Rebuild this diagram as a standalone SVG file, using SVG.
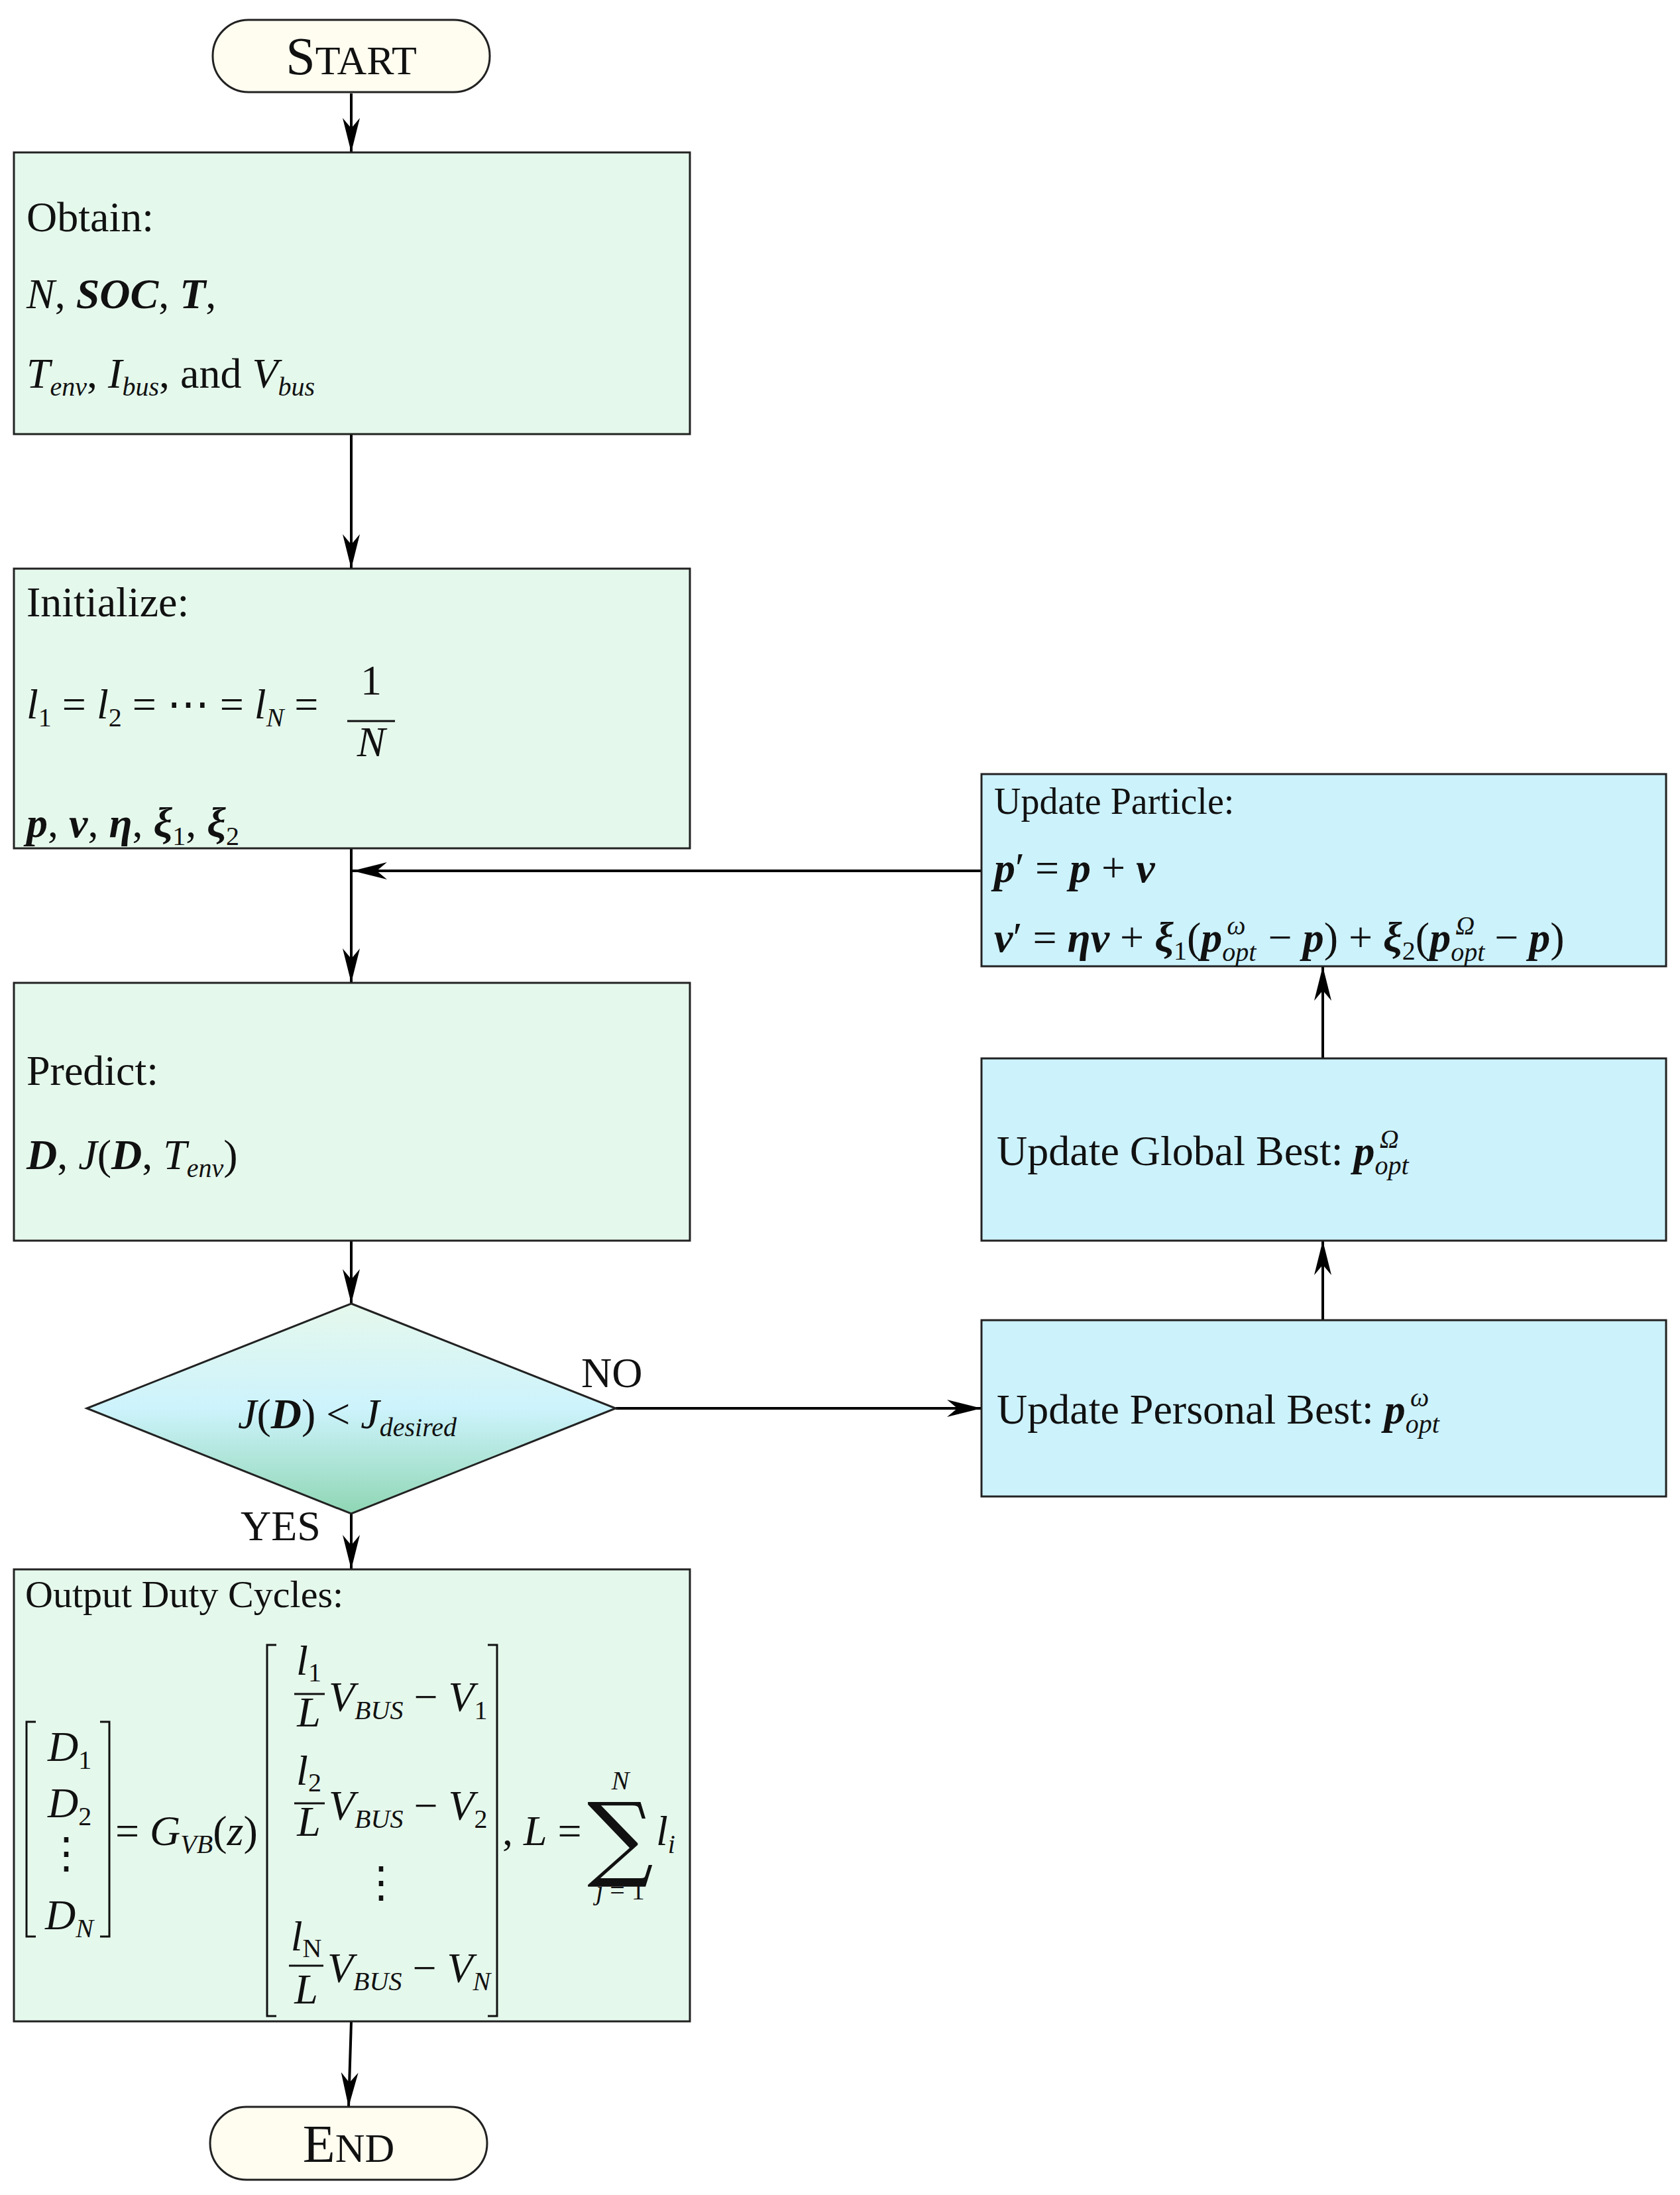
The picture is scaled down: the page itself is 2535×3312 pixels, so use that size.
<svg xmlns="http://www.w3.org/2000/svg" width="2535" height="3312" viewBox="0 0 2535 3312">
<style>
text{font-family:"Liberation Serif","DejaVu Serif",serif;font-size:64px;fill:#111}
.i{font-style:italic}
.b{font-weight:bold;font-style:italic}
.s{font-size:40px;font-style:italic}
.sn{font-size:40px}
.g{fill:#e5f8ec;stroke:#222;stroke-width:3}
.c{fill:#ccf2fc;stroke:#222;stroke-width:3}
.t{fill:#fffdf0;stroke:#222;stroke-width:3}
.e{stroke:#000;stroke-width:4;fill:none}
.m{stroke:#111;stroke-width:3;fill:none}
</style>
<defs>
<marker id="a" viewBox="0 0 20 10" refX="20" refY="5" markerWidth="56" markerHeight="26" markerUnits="userSpaceOnUse" orient="auto">
<path d="M0,0 L20,5 L0,10 L6,5 Z" fill="#000"/>
</marker>
<linearGradient id="dg" x1="0" y1="0" x2="0" y2="1">
<stop offset="0" stop-color="#e5f8ec"/><stop offset="0.5" stop-color="#cdf3fc"/><stop offset="1" stop-color="#8fd6b4"/>
</linearGradient>
</defs>
<g id="connectors">
<line class="e" x1="530" y1="141" x2="530" y2="230" marker-end="url(#a)"/>
<line class="e" x1="530" y1="655" x2="530" y2="858" marker-end="url(#a)"/>
<line class="e" x1="530" y1="1280" x2="530" y2="1483" marker-end="url(#a)"/>
<line class="e" x1="1481" y1="1314" x2="532" y2="1314" marker-end="url(#a)"/>
<line class="e" x1="530" y1="1872" x2="530" y2="1967" marker-end="url(#a)"/>
<line class="e" x1="530" y1="2284" x2="530" y2="2368" marker-end="url(#a)"/>
<line class="e" x1="530" y1="3050" x2="526" y2="3179" marker-end="url(#a)"/>
<line class="e" x1="929" y1="2125" x2="1481" y2="2125" marker-end="url(#a)"/>
<line class="e" x1="1996" y1="1992" x2="1996" y2="1872" marker-end="url(#a)"/>
<line class="e" x1="1996" y1="1597" x2="1996" y2="1458" marker-end="url(#a)"/>
<text x="877" y="2093">NO</text>
<text x="363" y="2324">YES</text>
</g>
<g id="start">
<rect class="t" x="321" y="30" width="418" height="109" rx="54"/>
<text x="530" y="112" text-anchor="middle" style="font-size:80px">S<tspan style="font-size:62px">TART</tspan></text>
</g>
<g id="obtain">
<rect class="g" x="21" y="230" width="1020" height="425"/>
<text x="40" y="349">Obtain:</text>
<text x="40" y="465"><tspan class="i">N</tspan>, <tspan class="b">SOC</tspan>, <tspan class="b">T</tspan>,</text>
<text x="40" y="585"><tspan class="i">T</tspan><tspan class="s" dy="12">env</tspan><tspan dy="-12">, </tspan><tspan class="i">I</tspan><tspan class="s" dy="12">bus</tspan><tspan dy="-12">, and </tspan><tspan class="i">V</tspan><tspan class="s" dy="12">bus</tspan></text>
</g>
<g id="initialize">
<rect class="g" x="21" y="858" width="1020" height="422"/>
<text x="40" y="930">Initialize:</text>
<text x="40" y="1084"><tspan class="i">l</tspan><tspan class="sn" dy="12">1</tspan><tspan dy="-12"> = </tspan><tspan class="i">l</tspan><tspan class="sn" dy="12">2</tspan><tspan dy="-12"> = ⋯ = </tspan><tspan class="i">l</tspan><tspan class="s" dy="12">N</tspan><tspan dy="-12"> =</tspan></text>
<text x="560" y="1048" text-anchor="middle">1</text>
<line class="m" x1="524" y1="1088" x2="596" y2="1088"/>
<text x="560" y="1141" text-anchor="middle" class="i">N</text>
<text x="40" y="1263"><tspan class="b">p</tspan>, <tspan class="b">v</tspan>, <tspan class="b">η</tspan>, <tspan class="b">ξ</tspan><tspan class="sn" dy="12">1</tspan><tspan dy="-12">, </tspan><tspan class="b">ξ</tspan><tspan class="sn" dy="12">2</tspan></text>
</g>
<g id="predict">
<rect class="g" x="21" y="1483" width="1020" height="389"/>
<text x="40" y="1637">Predict:</text>
<text x="40" y="1764"><tspan class="b">D</tspan>, <tspan class="i">J</tspan>(<tspan class="b">D</tspan>, <tspan class="i">T</tspan><tspan class="s" dy="12">env</tspan><tspan dy="-12">)</tspan></text>
</g>
<g id="decision">
<polygon points="530,1967 929,2125 530,2284 131,2125" fill="url(#dg)" stroke="#222" stroke-width="3"/>
<text x="359" y="2155"><tspan class="i">J</tspan>(<tspan class="b">D</tspan>) &lt; <tspan class="i">J</tspan><tspan class="s" dy="12">desired</tspan></text>
</g>
<g id="output">
<rect class="g" x="21" y="2368" width="1020" height="682"/>
<text x="38" y="2425" style="font-size:58px">Output Duty Cycles:</text>
<path class="m" d="M54,2598 H40 V2922 H54 M151,2598 H165 V2922 H151"/>
<text x="72" y="2657" class="i">D<tspan class="sn" dy="12" font-style="normal">1</tspan></text>
<text x="72" y="2742" class="i">D<tspan class="sn" dy="12" font-style="normal">2</tspan></text>
<text x="100" y="2818" text-anchor="middle">⋮</text>
<text x="68" y="2911" class="i">D<tspan class="s" dy="12">N</tspan></text>
<text x="174" y="2784">= <tspan class="i">G</tspan><tspan class="s" dy="12">VB</tspan><tspan dy="-12">(</tspan><tspan class="i">z</tspan>)</text>
<path class="m" d="M417,2482 H403 V3042 H417 M736,2482 H750 V3042 H736"/>
<text x="466" y="2527" text-anchor="middle"><tspan class="i">l</tspan><tspan class="sn" dy="10">1</tspan></text>
<line class="m" x1="444" y1="2556" x2="490" y2="2556"/>
<text x="466" y="2605" text-anchor="middle" class="i">L</text>
<text x="496" y="2582"><tspan class="i">V</tspan><tspan class="s" dy="12">BUS</tspan><tspan dy="-12"> − </tspan><tspan class="i">V</tspan><tspan class="sn" dy="12">1</tspan></text>
<text x="466" y="2693" text-anchor="middle"><tspan class="i">l</tspan><tspan class="sn" dy="10">2</tspan></text>
<line class="m" x1="444" y1="2721" x2="490" y2="2721"/>
<text x="466" y="2770" text-anchor="middle" class="i">L</text>
<text x="496" y="2746"><tspan class="i">V</tspan><tspan class="s" dy="12">BUS</tspan><tspan dy="-12"> − </tspan><tspan class="i">V</tspan><tspan class="sn" dy="12">2</tspan></text>
<text x="575" y="2862" text-anchor="middle">⋮</text>
<text x="462" y="2943" text-anchor="middle"><tspan class="i">l</tspan><tspan class="sn" dy="10">N</tspan></text>
<line class="m" x1="436" y1="2966" x2="488" y2="2966"/>
<text x="462" y="3023" text-anchor="middle" class="i">L</text>
<text x="494" y="2991"><tspan class="i">V</tspan><tspan class="s" dy="12">BUS</tspan><tspan dy="-12"> − </tspan><tspan class="i">V</tspan><tspan class="s" dy="12">N</tspan></text>
<text x="758" y="2784">, <tspan class="i">L</tspan> =</text>
<text x="936" y="2820" text-anchor="middle" style="font-size:140px;font-family:'DejaVu Serif',serif">∑</text>
<text x="936" y="2700" text-anchor="middle" class="s">N</text>
<text x="936" y="2866" text-anchor="middle" class="s">j<tspan font-style="normal"> = 1</tspan></text>
<text x="990" y="2784" class="i">l<tspan class="s" dy="12">i</tspan></text>
</g>
<g id="update-particle">
<rect class="c" x="1481" y="1168" width="1033" height="290"/>
<text x="1500" y="1228" style="font-size:56px">Update Particle:</text>
<text x="1500" y="1331"><tspan class="b">p</tspan>′ = <tspan class="b">p</tspan> + <tspan class="b">v</tspan></text>
<text x="1500" y="1436"><tspan class="b">v</tspan>′ = <tspan class="b">ηv</tspan> + <tspan class="b">ξ</tspan><tspan class="sn" dy="12">1</tspan><tspan dy="-12">(</tspan><tspan class="b">p</tspan><tspan class="s" dy="14">opt</tspan><tspan class="s" dx="-44" dy="-40">ω</tspan><tspan dx="18" dy="26"> − </tspan><tspan class="b">p</tspan>) + <tspan class="b">ξ</tspan><tspan class="sn" dy="12">2</tspan><tspan dy="-12">(</tspan><tspan class="b">p</tspan><tspan class="s" dy="14">opt</tspan><tspan class="s" dx="-44" dy="-40">Ω</tspan><tspan dx="14" dy="26"> − </tspan><tspan class="b">p</tspan>)</text>
</g>
<g id="update-global">
<rect class="c" x="1481" y="1597" width="1033" height="275"/>
<text x="1504" y="1758">Update Global Best: <tspan class="b">p</tspan><tspan class="s" dy="14">opt</tspan><tspan class="s" dx="-44" dy="-40">Ω</tspan></text>
</g>
<g id="update-personal">
<rect class="c" x="1481" y="1992" width="1033" height="266"/>
<text x="1504" y="2148">Update Personal Best: <tspan class="b">p</tspan><tspan class="s" dy="14">opt</tspan><tspan class="s" dx="-44" dy="-40">ω</tspan></text>
</g>
<g id="end">
<rect class="t" x="317" y="3179" width="418" height="110" rx="55"/>
<text x="526" y="3262" text-anchor="middle" style="font-size:80px">E<tspan style="font-size:62px">ND</tspan></text>
</g>
</svg>
